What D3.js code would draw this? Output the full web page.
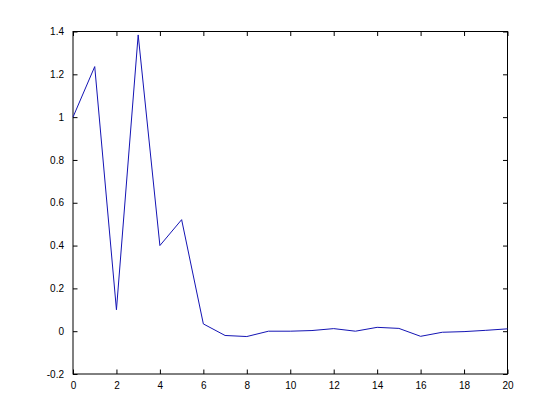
<!DOCTYPE html>
<html>
<head>
<meta charset="utf-8">
<script src="https://cdn.jsdelivr.net/npm/d3@7"></script>
<style>
  body { margin: 0; background: #fff; }
  svg text { font-family: "Liberation Sans", Arial, sans-serif; font-size: 10px; fill: #000; }
</style>
</head>
<body>
<svg width="560" height="420"></svg>
<script>
const xValues = [0, 1, 2, 3, 4, 5, 6, 7, 8, 9, 10, 11, 12, 13, 14, 15, 16, 17, 18, 19, 20];
const yValues = [1.0, 1.236, 0.10, 1.384, 0.40, 0.521, 0.034, -0.02, -0.025, 0, 0, 0.003, 0.012, 0, 0.018, 0.013, -0.024, -0.005, -0.002, 0.004, 0.011];
const xTicks = [0, 2, 4, 6, 8, 10, 12, 14, 16, 18, 20];
const yTicks = [-0.2, 0, 0.2, 0.4, 0.6, 0.8, 1, 1.2, 1.4];

const width = 560, height = 420;
const margins = {top: 31.5, right: 52.5, bottom: 46, left: 73};
const tickLen = 4.5;

const svg = d3.select('svg');

const scaleX = d3.scaleLinear()
	.domain([0, 20])
	.range([margins.left, width - margins.right]);

const scaleY = d3.scaleLinear()
	.domain([-0.2, 1.4])
	.range([height - margins.bottom, margins.top]);

const fmt = d => String(+d.toFixed(1));

// Bottom axis, ticks pointing inward
svg.append('g')
	.attr('transform', `translate(0, ${height - margins.bottom})`)
	.call(d3.axisBottom(scaleX).tickValues(xTicks).tickFormat(fmt).tickSizeInner(-tickLen).tickSizeOuter(0).tickPadding(8))
	.call(g => g.select('.domain').remove())
	.call(g => g.selectAll('text').attr('font-size', null));

// Top ticks
svg.append('g')
	.attr('transform', `translate(0, ${margins.top})`)
	.call(d3.axisTop(scaleX).tickValues(xTicks).tickFormat('').tickSizeInner(-tickLen).tickSizeOuter(0))
	.call(g => g.select('.domain').remove());

// Left axis
svg.append('g')
	.attr('transform', `translate(${margins.left}, 0)`)
	.call(d3.axisLeft(scaleY).tickValues(yTicks).tickFormat(fmt).tickSizeInner(-tickLen).tickSizeOuter(0).tickPadding(9))
	.call(g => g.select('.domain').remove())
	.call(g => g.selectAll('text').attr('font-size', null));

// Right ticks
svg.append('g')
	.attr('transform', `translate(${width - margins.right}, 0)`)
	.call(d3.axisRight(scaleY).tickValues(yTicks).tickFormat('').tickSizeInner(-tickLen).tickSizeOuter(0))
	.call(g => g.select('.domain').remove());

svg.selectAll('.tick line').attr('stroke', '#000');
svg.selectAll('g').attr('font-family', null);

// Box
svg.append('rect')
	.attr('x', margins.left)
	.attr('y', margins.top)
	.attr('width', width - margins.left - margins.right)
	.attr('height', height - margins.top - margins.bottom)
	.attr('fill', 'none')
	.attr('stroke', '#000')
	.attr('stroke-width', 1);

// Data line
const line = d3.line()
	.x((d, i) => scaleX(xValues[i]))
	.y(d => scaleY(d));

svg.append('path')
	.datum(yValues)
	.attr('fill', 'none')
	.attr('stroke', '#1414b4')
	.attr('stroke-width', 1)
	.attr('d', line);
</script>
</body>
</html>
